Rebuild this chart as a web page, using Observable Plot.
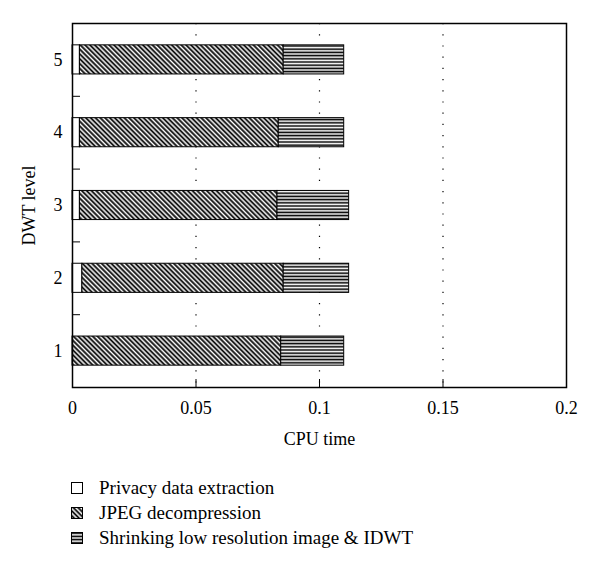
<!DOCTYPE html>
<html><head><meta charset="utf-8">
<script src="https://cdn.jsdelivr.net/npm/d3@7"></script>
<script src="https://cdn.jsdelivr.net/npm/@observablehq/plot@0.6"></script>
<style>
body{margin:0;background:#fff;font-family:"Liberation Serif",serif;color:#000;}
#legend{margin-left:71px;margin-top:20px;font-size:19px;}
.row{height:25px;line-height:25px;display:flex;align-items:center;}
.row svg{margin-right:16px;flex:none;}
</style></head><body>
<svg width="0" height="0" style="position:absolute">
<defs>
<pattern id="diag" patternUnits="userSpaceOnUse" width="3.4" height="3.4" patternTransform="rotate(-45)">
<rect width="3.4" height="3.4" fill="white"/>
<line x1="1.2" y1="0" x2="1.2" y2="3.4" stroke="black" stroke-width="1.8"/>
</pattern>
<pattern id="horiz" patternUnits="userSpaceOnUse" width="4" height="3.2">
<rect width="4" height="3.2" fill="white"/>
<line x1="0" y1="1.2" x2="4" y2="1.2" stroke="black" stroke-width="1.6"/>
</pattern>
</defs></svg>
<div id="chart"></div>
<div id="legend"></div>
<script>
const levels = [1, 2, 3, 4, 5];
const seriesNames = ["Privacy data extraction", "JPEG decompression", "Shrinking low resolution image & IDWT"];
const privacy = [0, 0.004, 0.003, 0.003, 0.003];
const jpeg = [0.0845, 0.0815, 0.080, 0.0805, 0.0825];
const shrink = [0.0255, 0.0265, 0.029, 0.0265, 0.0245];
const xTicks = [0, 0.05, 0.1, 0.15, 0.2];
const xTickLabels = ["0", "0.05", "0.1", "0.15", "0.2"];
const boundaries = [1.5, 2.5, 3.5, 4.5];
const fills = ["white", "url(#diag)", "url(#horiz)"];

const series = [privacy, jpeg, shrink];
const rows = [];
levels.forEach((lv, i) => {
  let start = 0;
  series.forEach((arr, s) => {
    rows.push({level: lv, series: seriesNames[s], fill: fills[s], x1: start, x2: start + arr[i]});
    start += arr[i];
  });
});

const chart = Plot.plot({
  width: 600, height: 455,
  marginLeft: 72, marginRight: 34, marginTop: 23, marginBottom: 68,
  style: {fontFamily: "Liberation Serif", fontSize: "18px", color: "black", background: "white"},
  x: {domain: [0, 0.2]},
  y: {domain: [0.5, 5.5]},
  color: {type: "identity"},
  marks: [
    Plot.gridX(xTicks.slice(1, -1), {stroke: "black", strokeOpacity: 1, strokeWidth: 1.2, strokeDasharray: "1.2,10"}),
    Plot.rectX(rows, {x1: "x1", x2: "x2", y1: d => d.level - 0.2, y2: d => d.level + 0.2, fill: "fill", stroke: "black", strokeWidth: 1}),
    Plot.axisX({ticks: xTicks, tickSize: -8, tickPadding: 22, tickFormat: d => xTickLabels[xTicks.indexOf(d)], label: "CPU time", labelAnchor: "center", labelArrow: "none", labelOffset: 57}),
    Plot.axisY({ticks: levels, tickSize: 0, tickPadding: 10, tickFormat: d => String(d), label: "DWT level", labelAnchor: "center", labelArrow: "none", labelOffset: 50}),
    Plot.axisY({ticks: boundaries, tickSize: -8, tickFormat: () => "", label: null}),
    Plot.frame({stroke: "black", strokeWidth: 1.5})
  ]
});
document.getElementById("chart").appendChild(chart);

const legend = document.getElementById("legend");
seriesNames.forEach((name, s) => {
  const row = document.createElement("div");
  row.className = "row";
  row.innerHTML = `<svg width="12" height="12"><rect x="0.5" y="0.5" width="11" height="11" fill="${fills[s]}" stroke="black" stroke-width="1"/></svg><span></span>`;
  row.querySelector("span").textContent = name;
  legend.appendChild(row);
});
</script>
</body></html>
